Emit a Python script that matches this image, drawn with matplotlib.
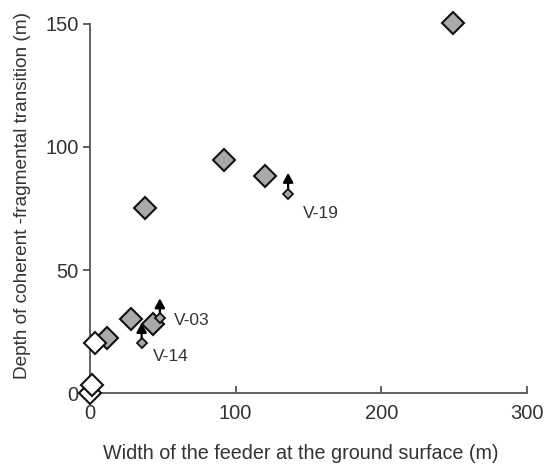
import matplotlib
matplotlib.use("Agg")
import matplotlib.pyplot as plt

plt.rcParams['font.family'] = ['Liberation Sans', 'DejaVu Sans']

# gray (filled) measurements
gray_x = [12, 28, 43, 38, 92, 120, 249]
gray_y = [22.5, 30, 28, 75, 94.5, 88, 150.5]
# open (white) measurements
white_x = [0, 1.5, 3.5]
white_y = [0, 3.5, 20.5]
# minimum values (small diamonds with upward arrows)
min_names = ["V-03", "V-14", "V-19"]
min_x = [48, 35.5, 136]
min_y = [30.5, 20.5, 81]
min_tip = [38.5, 28.5, 89.5]
label_dx = [5, 2.5, 5]
label_dy = [-1, -5.5, -8]

xticks = [0, 100, 200, 300]
yticks = [0, 50, 100, 150]

fig = plt.figure(figsize=(5.48, 4.68), dpi=100)
ax = fig.add_axes([0.164, 0.160, 0.798, 0.789])

ax.set_xlim(0, 300)
ax.set_ylim(0, 150)

ax.plot(gray_x, gray_y, linestyle='none', marker='D', ms=11.5, mfc='#a9a9a9',
        mec='#111111', mew=1.5, clip_on=False, zorder=3)
ax.plot(white_x, white_y, linestyle='none', marker='D', ms=11.5, mfc='white',
        mec='#111111', mew=1.5, clip_on=False, zorder=4)

for name, x, y, t, dx, dy in zip(min_names, min_x, min_y, min_tip, label_dx, label_dy):
    ax.annotate('', xy=(x, t), xytext=(x, y + 1.5),
                arrowprops=dict(arrowstyle='-|>,head_length=0.55,head_width=0.3',
                                color='black', lw=1.6, shrinkA=0, shrinkB=0),
                zorder=5, annotation_clip=False)
    ax.plot([x], [y], linestyle='none', marker='D', ms=5.5, mfc='#a9a9a9',
            mec='#111111', mew=1.3, clip_on=False, zorder=6)
    ax.text(x + dx + 5, y + dy, name, fontsize=12.5, color='#333333',
            ha='left', va='center')

for s in ['top', 'right']:
    ax.spines[s].set_visible(False)
for s in ['left', 'bottom']:
    ax.spines[s].set_color('#555555')
    ax.spines[s].set_linewidth(1.3)

ax.set_xticks(xticks)
ax.set_yticks(yticks)
ax.tick_params(axis='x', direction='in', length=5, width=1.3, color='#555555',
               labelsize=14.5, labelcolor='#333333', pad=8)
ax.tick_params(axis='y', direction='out', length=5, width=1.3, color='#555555',
               labelsize=14.5, labelcolor='#333333', pad=3)

ax.set_xlabel('Width of the feeder at the ground surface (m)', fontsize=14.2,
              color='#333333')
ax.set_ylabel('Depth of coherent -fragmental transition (m)', fontsize=13.7,
              color='#333333')
ax.xaxis.set_label_coords(0.483, -0.138)
ax.yaxis.set_label_coords(-0.135, 0.534)

fig.savefig('out.png', dpi=100)
